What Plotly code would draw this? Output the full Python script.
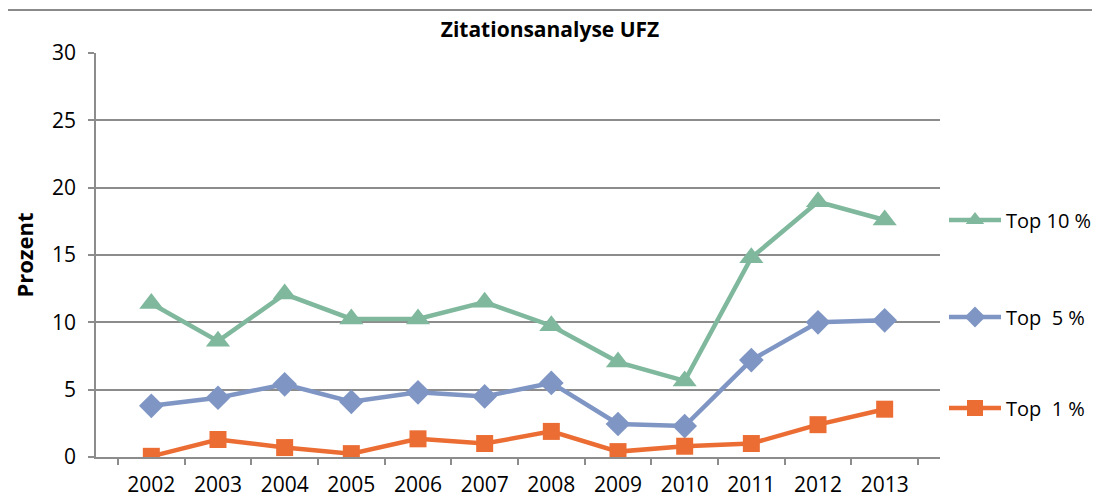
import plotly.graph_objects as go

years = ['2002', '2003', '2004', '2005', '2006', '2007',
         '2008', '2009', '2010', '2011', '2012', '2013']
top10 = [11.4, 8.6, 12.1, 10.25, 10.25, 11.5, 9.75, 7.05, 5.65, 14.8, 18.95, 17.6]
top5 = [3.8, 4.4, 5.4, 4.1, 4.8, 4.5, 5.5, 2.45, 2.3, 7.2, 10.0, 10.15]
top1 = [0.05, 1.3, 0.7, 0.25, 1.35, 1.0, 1.9, 0.4, 0.8, 1.0, 2.4, 3.55]
y_ticks = [0, 5, 10, 15, 20, 25, 30]

green = '#7fb89d'
blue = '#7f96c4'
orange = '#eb6d33'
grid = '#8c8c8c'
font = 'Open Sans, Lato, sans-serif'

# the page body has an 8px margin, so the figure is shifted by 8px
OFF = 8
W, H = 1100 - OFF, 499 - OFF
ml, mt, mb = 96 - OFF, 53 - OFF, 42
pw = 844
mr = W - ml - pw
ph = H - mt - mb


def px_x(x):
    return (x - OFF - ml) / pw


def px_y(y):
    return (mt + ph - (y - OFF)) / ph


def cy(y):
    return 1 - (y - OFF) / H


fig = go.Figure()
fig.add_trace(go.Scatter(x=years, y=top10, mode='lines+markers', name='Top 10 %',
                         line=dict(color=green, width=4.5),
                         marker=dict(symbol='triangle-up', size=21, color=green),
                         legend='legend', showlegend=True))
fig.add_trace(go.Scatter(x=years, y=top5, mode='lines+markers', name='Top\u00a0 5 %',
                         line=dict(color=blue, width=4.5),
                         marker=dict(symbol='diamond', size=19, color=blue),
                         legend='legend2', showlegend=True))
fig.add_trace(go.Scatter(x=years, y=top1, mode='lines+markers', name='Top\u00a0 1 %',
                         line=dict(color=orange, width=4.5),
                         marker=dict(symbol='square', size=17, color=orange),
                         legend='legend3', showlegend=True))

leg = dict(font=dict(family=font, size=20, color='#000000'), bgcolor='rgba(0,0,0,0)',
           xanchor='left', yanchor='middle', itemwidth=52,
           xref='container', yref='container', x=(944 - OFF) / W)

fig.update_layout(
    width=W, height=H,
    margin=dict(l=ml, r=mr, t=mt, b=mb),
    showlegend=True,
    paper_bgcolor='white', plot_bgcolor='white',
    font=dict(family=font, size=21, color='#000000'),
    title=dict(text='<b>Zitationsanalyse UFZ</b>', x=px_x(550), xanchor='center',
               xref='paper', y=cy(30), yanchor='middle',
               font=dict(family=font, size=21)),
    legend=dict(leg, y=cy(220)),
    legend2=dict(leg, y=cy(317)),
    legend3=dict(leg, y=cy(408)),
    xaxis=dict(type='category', tickson='boundaries', ticks='outside', ticklen=6,
               tickcolor=grid, tickwidth=1.5, showline=True, linecolor=grid, linewidth=1.5,
               showgrid=False, tickfont=dict(size=21), ticklabelstandoff=8,
               automargin=False),
    yaxis=dict(range=[0, 30], tickvals=y_ticks, ticks='outside', ticklen=6,
               tickcolor=grid, tickwidth=1.5, showline=True, linecolor=grid, linewidth=1.5,
               showgrid=True, gridcolor=grid, gridwidth=1.5, zeroline=False,
               tickfont=dict(size=21), ticklabelstandoff=8, automargin=False,
               title=dict(text='<b>Prozent</b>', font=dict(size=22), standoff=12)),
    shapes=[
        dict(type='line', xref='paper', yref='paper', x0=px_x(5), x1=px_x(1100),
             y0=px_y(10), y1=px_y(10), line=dict(color='#8a8a8a', width=2)),
        dict(type='line', xref='paper', yref='paper', x0=px_x(5), x1=px_x(5),
             y0=px_y(10), y1=px_y(499), line=dict(color='#8a8a8a', width=2)),
    ],
)

fig.write_html('out.html')
